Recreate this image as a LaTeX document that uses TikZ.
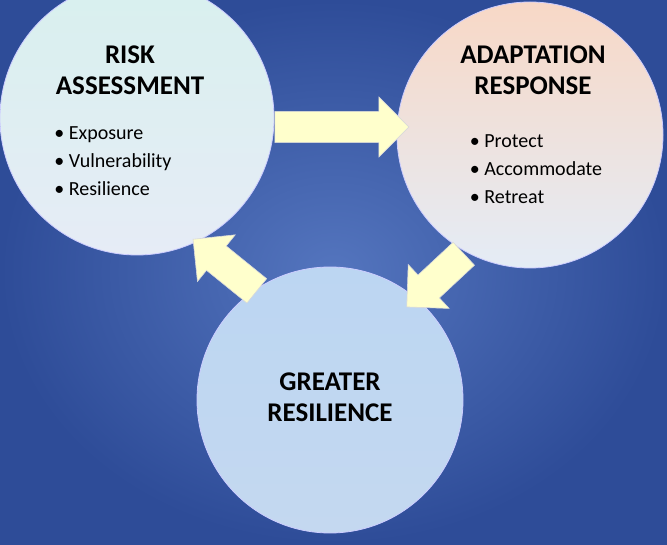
\documentclass[tikz,border=0pt]{standalone}
\usepackage{fontspec}
\setmainfont{Carlito}
\usetikzlibrary{shapes.arrows,shadows}
\definecolor{bgout}{HTML}{2E4C98}
\definecolor{bgin}{HTML}{5475BE}
\definecolor{arrowfill}{HTML}{FFFFCC}
\definecolor{c1t}{HTML}{D8F0EE}
\definecolor{c1b}{HTML}{E6ECF6}
\definecolor{c2t}{HTML}{F8D8C6}
\definecolor{c2b}{HTML}{E4ECF6}
\definecolor{c3t}{HTML}{BCD6F2}
\definecolor{c3b}{HTML}{C4D8F0}
\tikzset{
  circ/.style={circle,draw=white!80!blue,line width=0.8pt,minimum size=#1},
  blk/.style={single arrow,draw=white!70!gray,line width=0.6pt,fill=arrowfill,
    minimum width=60pt,single arrow head extend=14pt,inner xsep=0pt,inner ysep=15pt,
    text height=0pt,text depth=0pt},
  ttl/.style={font=\bfseries\fontsize{27}{31}\selectfont,align=center,text=black},
  lst/.style={font=\fontsize{20}{28}\selectfont,align=left,text=black}
}
\begin{document}
\begin{tikzpicture}[x=1pt,y=1pt]
\useasboundingbox (0,0) rectangle (667,544);
\shade[inner color=bgin,outer color=bgout] (0,0) rectangle (667,544);
\node[circ=274pt,top color=c1t,bottom color=c1b] (ra) at (137,426) {};
\node[circ=266pt,top color=c2t,bottom color=c2b] (ar) at (530,409) {};
\node[circ=266pt,top color=c3t,bottom color=c3b] (gr) at (330,144) {};
\node[blk,minimum height=134pt] (a1) at (334,417) {};
\node[blk,minimum height=78pt,rotate=223] (a2) at (441,269) {};
\node[blk,minimum height=82pt,rotate=141] (a3) at (231,274) {};
\node[ttl] (t1) at (130,474) {RISK\\ASSESSMENT};
\node[lst] (l1) at (113,383) {• Exposure\\• Vulnerability\\• Resilience};
\node[ttl] (t2) at (533,474) {ADAPTATION\\RESPONSE};
\node[lst] (l2) at (536,375) {• Protect\\• Accommodate\\• Retreat};
\node[ttl] (t3) at (330,147) {GREATER\\RESILIENCE};
\end{tikzpicture}
\end{document}
